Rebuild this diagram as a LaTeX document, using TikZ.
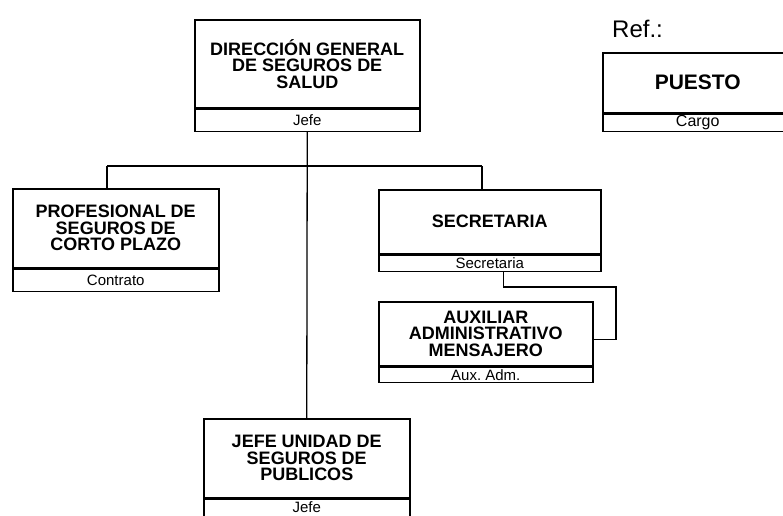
\documentclass[tikz,border=0pt]{standalone}
\usepackage{fontspec}
\setmainfont{Liberation Sans}
\usetikzlibrary{positioning,calc}
\frenchspacing
\tikzset{
  puesto/.style={draw, line width=1.5pt, inner sep=0pt, anchor=north west, align=center,
    font=\fontsize{18}{16.5}\selectfont\bfseries},
  cargo/.style={draw, line width=1.5pt, inner sep=0pt, below=0pt of #1, font=\fontsize{15}{15}\selectfont},
  enlace/.style={line width=1.3pt}
}
\begin{document}
\begin{tikzpicture}[x=1pt,y=-1pt]
  \clip (0,0) rectangle (783,515);
  % direccion
  \node [puesto, minimum width=225pt, minimum height=88pt] (dir) at (194,19) {DIRECCIÓN GENERAL\\DE SEGUROS DE\\SALUD};
  \node [cargo=dir, minimum width=225pt, minimum height=22pt] (dirc) {Jefe};
  % dependientes
  \node [puesto, minimum width=206pt, minimum height=79pt] (prof) at (12,188) {PROFESIONAL DE\\SEGUROS DE\\CORTO PLAZO};
  \node [cargo=prof, minimum width=206pt, minimum height=22pt] (profc) {Contrato};
  \node [puesto, minimum width=222pt, minimum height=64pt] (secr) at (378,189) {SECRETARIA};
  \node [cargo=secr, minimum width=222pt, minimum height=16pt] (secrc) {Secretaria};
  \node [puesto, minimum width=214pt, minimum height=64pt] (aux) at (378,301) {AUXILIAR\\ADMINISTRATIVO\\MENSAJERO};
  \node [cargo=aux, minimum width=214pt, minimum height=15pt] (auxc) {Aux. Adm.};
  \node [puesto, minimum width=206pt, minimum height=79pt] (jefu) at (203,418) {JEFE UNIDAD DE\\SEGUROS DE\\PUBLICOS};
  \node [cargo=jefu, minimum width=206pt, minimum height=20pt, text depth=4pt] (jefuc) {Jefe};
  % referencia
  \node [anchor=base west, inner sep=0pt, font=\fontsize{24}{24}\selectfont] (ref) at (612,37) {Ref.:};
  \node [puesto, minimum width=190pt, minimum height=60pt, font=\fontsize{21}{21}\selectfont\bfseries] (ejem) at (602,52) {PUESTO};
  \node [cargo=ejem, minimum width=190pt, minimum height=17pt, font=\fontsize{16}{16}\selectfont] (ejemc) {Cargo};
  % lineas
  \coordinate (busL) at (107,166);
  \coordinate (busR) at (482,166);
  \coordinate (codo) at (616,287);
  \draw [enlace] (dirc.south) -- (jefu.north);
  \draw [enlace] (busL) -- (busR);
  \draw [enlace] (busL) -- (busL |- prof.north);
  \draw [enlace] (busR) -- (busR |- secr.north);
  \draw [enlace] ([xshift=14pt]secrc.south) |- (codo) |- ([yshift=-6pt]aux.east);
\end{tikzpicture}
\end{document}
